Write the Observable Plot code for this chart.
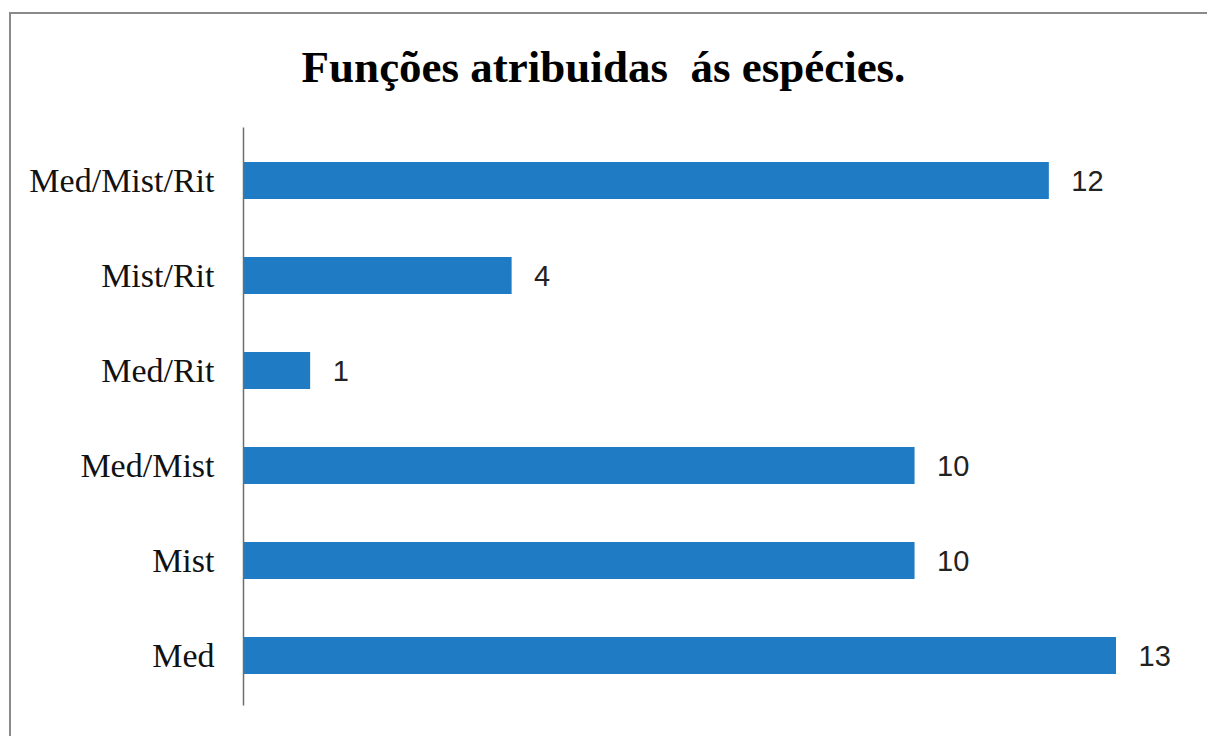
<!DOCTYPE html>
<html>
<head>
<meta charset="utf-8">
<script src="https://cdn.jsdelivr.net/npm/d3@7"></script>
<script src="https://cdn.jsdelivr.net/npm/@observablehq/plot@0.6"></script>
<style>
  html, body { margin: 0; padding: 0; background: #fff; }
  #wrap { position: relative; width: 1207px; height: 736px; overflow: hidden; }
  #frame { position: absolute; left: 9px; top: 12px; right: -10px; bottom: -10px;
           border-top: 2px solid #8a8a8a; border-left: 2px solid #8a8a8a; }
  #title { position: absolute; left: 0; width: 1207px; top: 40px; margin: 0; text-align: center;
           font-family: "Liberation Serif", "DejaVu Serif", serif; font-weight: bold; font-size: 45px;
           line-height: 54px; color: #000; white-space: pre; }
  #chart { position: absolute; left: 0; top: 0; }
</style>
</head>
<body>
<div id="wrap">
  <div id="frame"></div>
  <div id="chart"></div>
  <h1 id="title"></h1>
</div>
<script>
const title = "Funções atribuidas  ás espécies.";
const categories = ["Med/Mist/Rit", "Mist/Rit", "Med/Rit", "Med/Mist", "Mist", "Med"];
const values = [12, 4, 1, 10, 10, 13];

const data = categories.map((c, i) => ({category: c, value: values[i]}));
document.getElementById("title").textContent = title;

const chart = Plot.plot({
  width: 1207,
  height: 736,
  marginLeft: 243,
  marginRight: 91,
  marginTop: 133.5,
  marginBottom: 32.5,
  style: {background: "transparent", overflow: "visible"},
  x: {domain: [0, 13], axis: null},
  y: {domain: categories, paddingInner: 0.61, paddingOuter: 0.305, label: null},
  marks: [
    Plot.barX(data, {x: "value", y: "category", fill: "#1f7bc3"}),
    Plot.ruleX([0], {stroke: "#6e6e6e", strokeWidth: 1.5, insetTop: -6, insetBottom: -2}),
    Plot.text(data, {x: "value", y: "category", text: d => String(d.value), textAnchor: "start", dx: 22, dy: 1,
      fontSize: 29, fill: "#222", fontFamily: "Liberation Sans, Arial, sans-serif"}),
    Plot.axisY({tickSize: 0, tickPadding: 29, fontSize: 34, fill: "#111",
      fontFamily: "Liberation Serif, DejaVu Serif, serif", label: null})
  ]
});
document.getElementById("chart").appendChild(chart);
</script>
</body>
</html>
